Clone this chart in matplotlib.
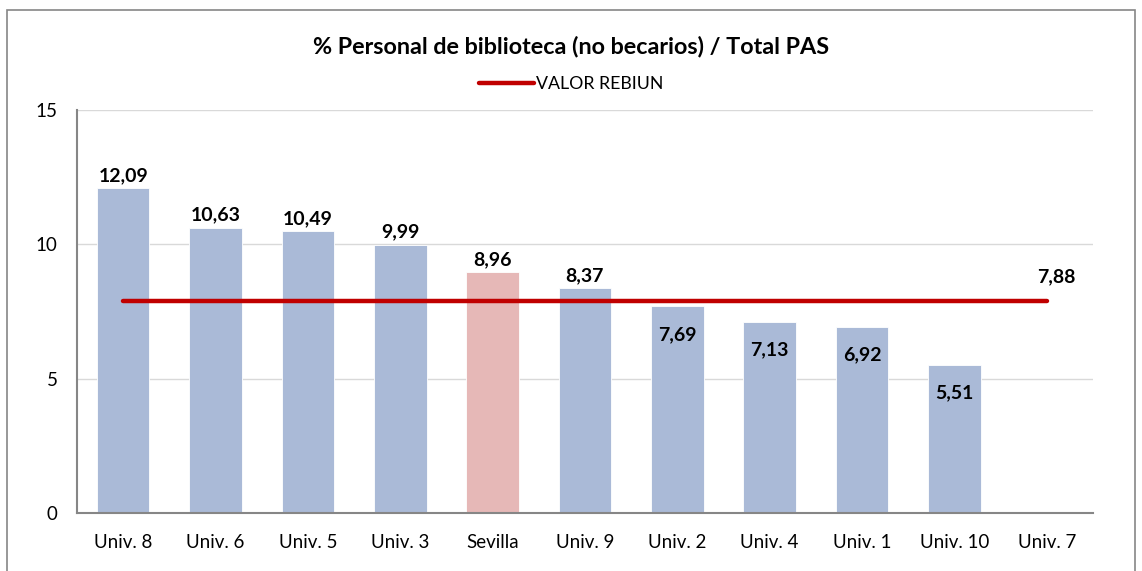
import matplotlib.pyplot as plt
from matplotlib.patches import Rectangle

plt.rcParams['font.family'] = ['Lato', 'DejaVu Sans']

# Data
universidades = ["Univ. 8", "Univ. 6", "Univ. 5", "Univ. 3", "Sevilla", "Univ. 9",
                 "Univ. 2", "Univ. 4", "Univ. 1", "Univ. 10", "Univ. 7"]
porcentajes = [12.09, 10.63, 10.49, 9.99, 8.96, 8.37, 7.69, 7.13, 6.92, 5.51, None]
valor_rebiun = 7.88

blue = "#AABAD7"
pink = "#E6B8B7"
red = "#C00000"

fig = plt.figure(figsize=(11.42, 5.71), dpi=100)
ax = fig.add_axes([0.0674, 0.1016, 0.8896, 0.7054])

x = list(range(len(universidades)))
heights = [v if v is not None else 0 for v in porcentajes]
colors = [pink if u == "Sevilla" else blue for u in universidades]
ax.bar(x, heights, width=0.57, color=colors, edgecolor="white", linewidth=0.6, zorder=2)

# Reference line across all categories
ax.plot([x[0], x[-1]], [valor_rebiun, valor_rebiun], color=red, lw=3.2,
        solid_capstyle="round", zorder=3, label="VALOR REBIUN")

def fmt(v):
    return f"{v:.2f}".replace(".", ",")

for xi, v in zip(x, porcentajes):
    if v is None:
        continue
    if v > valor_rebiun:
        ax.text(xi, v + 0.15, fmt(v), ha="center", va="bottom", fontsize=14,
                fontweight="bold", zorder=4)
    else:
        ax.text(xi, v - 0.72, fmt(v), ha="center", va="top", fontsize=14,
                fontweight="bold", zorder=4)

ax.text(x[-1] + 0.1, valor_rebiun + 0.6, fmt(valor_rebiun), ha="center", va="bottom",
        fontsize=14, fontweight="bold", zorder=4)

ax.set_xlim(-0.5, len(universidades) - 0.5)
ax.set_ylim(0, 15)
ax.set_yticks([0, 5, 10, 15])
ax.set_xticks(x)
ax.set_xticklabels(universidades, fontsize=13.5)
ax.tick_params(axis="y", labelsize=13.5, length=0, pad=14)
ax.tick_params(axis="x", length=0, pad=15)
ax.grid(axis="y", color="#D9D9D9", lw=1, zorder=0)

for s in ["top", "right"]:
    ax.spines[s].set_visible(False)
ax.spines["left"].set_color("#868686")
ax.spines["bottom"].set_color("#868686")
ax.spines["left"].set_linewidth(1.5)
ax.spines["bottom"].set_linewidth(1.5)

fig.text(0.5, 0.918, "% Personal de biblioteca (no becarios) / Total PAS", ha="center",
         va="center", fontsize=16.8, fontweight="bold")
fig.legend(loc="center", bbox_to_anchor=(0.5, 0.853), frameon=False, fontsize=12.8,
           handlelength=3.1, handletextpad=0.1)

# Outer chart frame
fig.patches.append(Rectangle((7 / 1142, -0.05), 1128 / 1142, 1.05 - 10 / 571,
                             transform=fig.transFigure, fill=False,
                             edgecolor="#868686", lw=1.2))

fig.savefig("out.png", dpi=100)
